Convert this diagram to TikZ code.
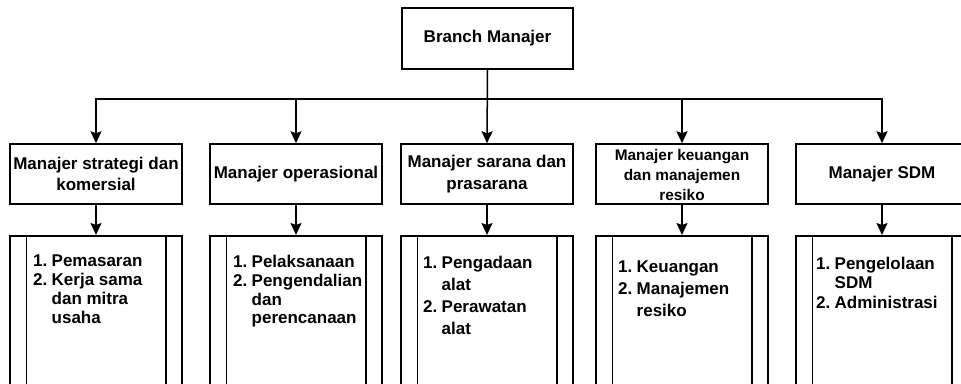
\documentclass[tikz,border=0pt]{standalone}
\usepackage{fontspec}
\setmainfont{Liberation Sans}
\usetikzlibrary{arrows.meta}
\newcommand\lnum[1]{\makebox[18.5pt][l]{#1}}
\newcommand\lind{\hspace*{18.5pt}}
\begin{document}
\begin{tikzpicture}[x=1pt,y=-1pt,
  box/.style={draw,line width=1.5pt,minimum width=172pt,minimum height=60pt,inner sep=0pt,align=center,font=\bfseries\fontsize{17}{21.7}\selectfont},
  smalltxt/.style={inner sep=0pt,align=center,yshift=-1pt,font=\bfseries\fontsize{15.4}{20}\selectfont},
  listbox/.style={draw,line width=1.5pt,minimum width=172pt,minimum height=190pt,inner sep=0pt,anchor=north},
  inner/.style={line width=1.5pt},
  listtxt/.style={anchor=north west,inner sep=0pt,align=left},
  arr/.style={line width=1.5pt,-{Stealth[length=12pt,width=11pt,inset=2pt]}}]
\useasboundingbox (0,0) rectangle (961,383);
\clip (0,0) rectangle (961,383);
\fill[white] (0,0) rectangle (961,383);

\node[box,minimum width=171pt,minimum height=61pt] (top) at (487.5,38.5) {Branch Manajer};
\coordinate (bus) at (487.5,99);

\node[box] (m1) at (96,174) {Manajer strategi dan\\komersial};
\node[box] (m2) at (296,174) {Manajer operasional};
\node[box] (m3) at (487,174) {Manajer sarana dan\\prasarana};
\node[box,label={[smalltxt]center:Manajer keuangan\\dan manajemen\\resiko}] (m4) at (682,174) {};
\node[box] (m5) at (882,174) {Manajer SDM};

\draw[arr] (top.south) -- (top.south |- bus) -| (m1.north);
\draw[arr] (top.south) -- (top.south |- bus) -| (m2.north);
\draw[arr] (top.south) -- (m3.north);
\draw[arr] (top.south) -- (top.south |- bus) -| (m4.north);
\draw[arr] (top.south) -- (top.south |- bus) -| (m5.north);

\foreach \i/\x in {1/96,2/296,3/487,4/682,5/882}{
  \node[listbox] (b\i) at (\x,235) {};
  \draw[inner] ([xshift=17pt]b\i.north west) -- ([xshift=17pt]b\i.south west);
  \draw[inner] ([xshift=-17pt]b\i.north east) -- ([xshift=-17pt]b\i.south east);
}
\draw[arr] (m1.south) -- (b1.north);
\draw[arr] (m2.south) -- (b2.north);
\draw[arr] (m3.south) -- (b3.north);
\draw[arr] (m4.south) -- (b4.north);
\draw[arr] (m5.south) -- (b5.north);

\node[listtxt,font=\bfseries\fontsize{17}{18.8}\selectfont] (t1) at (33,255)
  {\lnum{1.}Pemasaran\\\lnum{2.}Kerja sama\\\lind dan mitra\\\lind usaha};
\node[listtxt,font=\bfseries\fontsize{17}{18.8}\selectfont] (t2) at (233,255)
  {\lnum{1.}Pelaksanaan\\\lnum{2.}Pengendalian\\\lind dan\\\lind perencanaan};
\node[listtxt,font=\bfseries\fontsize{17}{22}\selectfont] (t3) at (423,256)
  {\lnum{1.}Pengadaan\\\lind alat\\\lnum{2.}Perawatan\\\lind alat};
\node[listtxt,font=\bfseries\fontsize{17}{21.6}\selectfont] (t4) at (618,261)
  {\lnum{1.}Keuangan\\\lnum{2.}Manajemen\\\lind resiko};
\node[listtxt,font=\bfseries\fontsize{17}{19.4}\selectfont] (t5) at (816,257)
  {\lnum{1.}Pengelolaan\\\lind SDM\\\lnum{2.}Administrasi};
\end{tikzpicture}
\end{document}
